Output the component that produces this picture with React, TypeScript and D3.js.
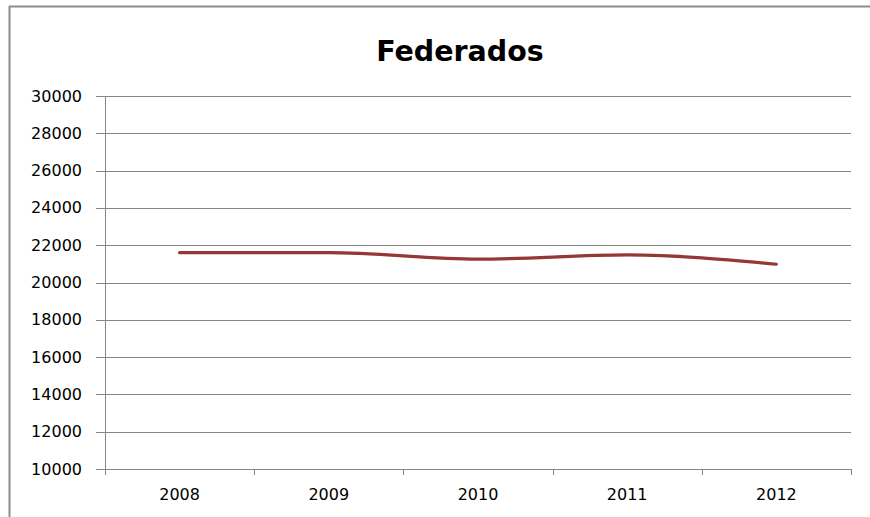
import React from "react";
import * as d3 from "d3";

const categories = ["2008", "2009", "2010", "2011", "2012"];
const values = [21600, 21600, 21250, 21480, 20980];
const yTicks = [10000, 12000, 14000, 16000, 18000, 20000, 22000, 24000, 26000, 28000, 30000];
const title = "Federados";

export default function App() {
  const W = 870, H = 517;
  const left = 105, right = 851, top = 96, bottom = 469;
  const x = d3.scaleBand().domain(categories).range([left, right]);
  const y = d3.scaleLinear().domain([10000, 30000]).range([bottom, top]);
  const line = d3
    .line<number>()
    .x((_, i) => (x(categories[i]) as number) + x.bandwidth() / 2)
    .y((d) => y(d))
    .curve(d3.curveMonotoneX);
  const font = "DejaVu Sans, Verdana, sans-serif";
  const bounds = [...categories.map((c) => x(c) as number), right];
  return (
    <svg width={W} height={H} style={{ position: "absolute", left: 0, top: 0, background: "#fff" }}>
      <rect x={0} y={0} width={W} height={H} fill="#fff" />
      <line x1={9.5} y1={6} x2={9.5} y2={H} stroke="#8c8c8c" strokeWidth={2} />
      <line x1={9} y1={6.5} x2={W} y2={6.5} stroke="#8c8c8c" strokeWidth={2} />
      <text x={460} y={61} textAnchor="middle" fontFamily={font} fontWeight="bold" fontSize={28.5} fill="#000">
        {title}
      </text>
      {yTicks.map((t) => (
        <g key={t}>
          <line x1={96} x2={right} y1={Math.round(y(t)) + 0.5} y2={Math.round(y(t)) + 0.5} stroke="#868686" strokeWidth={1} />
          <text x={82} y={y(t) + 5.5} textAnchor="end" fontFamily={font} fontSize={16} fill="#000">
            {t}
          </text>
        </g>
      ))}
      <line x1={left + 0.5} x2={left + 0.5} y1={top} y2={bottom + 6} stroke="#868686" />
      {bounds.map((b, i) => (
        <line key={i} x1={Math.round(b) + 0.5} x2={Math.round(b) + 0.5} y1={bottom} y2={bottom + 6} stroke="#868686" />
      ))}
      {categories.map((c) => (
        <text key={c} x={(x(c) as number) + x.bandwidth() / 2} y={500} textAnchor="middle" fontFamily={font} fontSize={16} fill="#000">
          {c}
        </text>
      ))}
      <path d={line(values) || ""} fill="none" stroke="#953735" strokeWidth={3.2} strokeLinecap="round" />
    </svg>
  );
}
